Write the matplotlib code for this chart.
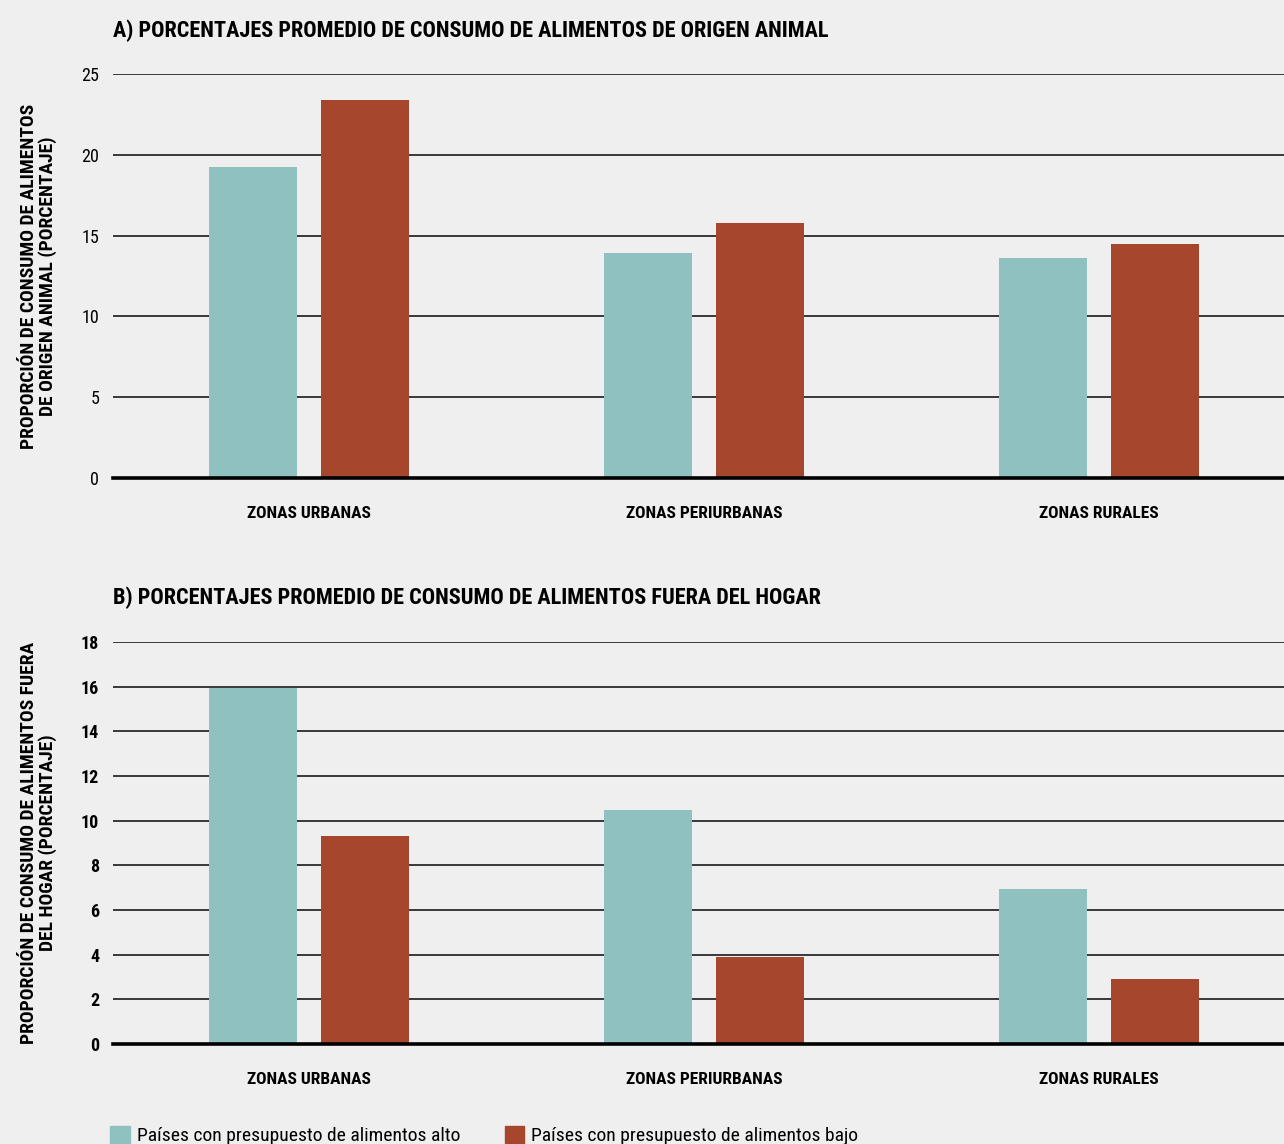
import numpy as np
import matplotlib
matplotlib.use("Agg")
from matplotlib import pyplot as plt
from matplotlib.patches import Patch

plt.rcParams['font.family'] = ['Roboto Condensed', 'Archivo Narrow', 'Asap Condensed',
                               'Liberation Sans Narrow', 'DejaVu Sans']

# datos
zonas = ["ZONAS URBANAS", "ZONAS PERIURBANAS", "ZONAS RURALES"]
serie_alto = "Países con presupuesto de alimentos alto"
serie_bajo = "Países con presupuesto de alimentos bajo"

animal_alto = [19.25, 13.9, 13.6]
animal_bajo = [23.4, 15.75, 14.5]
fuera_alto = [15.95, 10.5, 6.95]
fuera_bajo = [9.3, 3.9, 2.9]

titulo_a = "A) PORCENTAJES PROMEDIO DE CONSUMO DE ALIMENTOS DE ORIGEN ANIMAL"
titulo_b = "B) PORCENTAJES PROMEDIO DE CONSUMO DE ALIMENTOS FUERA DEL HOGAR"
ylab_a = "PROPORCIÓN DE CONSUMO DE ALIMENTOS\nDE ORIGEN ANIMAL (PORCENTAJE)"
ylab_b = "PROPORCIÓN DE CONSUMO DE ALIMENTOS FUERA\nDEL HOGAR (PORCENTAJE)"

C_ALTO = "#8ec1bf"
C_BAJO = "#a5462d"
BG = "#efefef"

fig = plt.figure(figsize=(12.84, 11.44), dpi=100, facecolor=BG)

ax_a = fig.add_axes([113/1284, 1-478/1144, 1-113/1284, (478-74)/1144])
ax_b = fig.add_axes([113/1284, 1-1044/1144, 1-113/1284, (1044-642)/1144])

x = np.arange(len(zonas))
w = 0.223
off = 0.1425


def panel(ax, alto, bajo, ymax, step, ylab, tick_bold):
    ax.set_facecolor(BG)
    ax.bar(x - off, alto, w, color=C_ALTO, zorder=3)
    ax.bar(x + off, bajo, w, color=C_BAJO, zorder=3)
    ax.set_xlim(-0.496, 2.468)
    ax.set_ylim(0, ymax)
    ax.set_yticks(np.arange(0, ymax + 0.1, step))
    ax.yaxis.grid(True, color="#2a2a2a", lw=1.3, zorder=0)
    ax.set_axisbelow(True)
    for s in ["top", "right", "left"]:
        ax.spines[s].set_visible(False)
    ax.spines["bottom"].set_linewidth(2.6)
    ax.spines["bottom"].set_color("black")
    ax.spines["bottom"].set_zorder(4)
    ax.set_xticks(x)
    ax.set_xticklabels(zonas, fontsize=12.5, fontweight="bold")
    ax.tick_params(axis="x", length=0, pad=20)
    ax.tick_params(axis="y", length=0, pad=10, labelsize=13)
    if tick_bold:
        for t in ax.get_yticklabels():
            t.set_fontweight("bold")
    ax.set_ylabel(ylab, fontsize=14, fontweight="bold", linespacing=1.0)
    ax.yaxis.set_label_coords(-0.048, 0.5)


panel(ax_a, animal_alto, animal_bajo, 25, 5, ylab_a, False)
panel(ax_b, fuera_alto, fuera_bajo, 18, 2, ylab_b, True)

fig.text(113/1284, 1-31/1144, titulo_a, fontsize=16, fontweight="bold", va="center", ha="left")
fig.text(113/1284, 1-598/1144, titulo_b, fontsize=16, fontweight="bold", va="center", ha="left")

handles = [Patch(color=C_ALTO, label=serie_alto), Patch(color=C_BAJO, label=serie_bajo)]
fig.legend(handles=handles, loc="upper left", bbox_to_anchor=(93/1284, 1-1108/1144),
           ncol=2, frameon=False, fontsize=14, handlelength=1.0, handleheight=1.0,
           handletextpad=0.35, columnspacing=2.3)

fig.savefig("out.png", dpi=100, facecolor=BG)
